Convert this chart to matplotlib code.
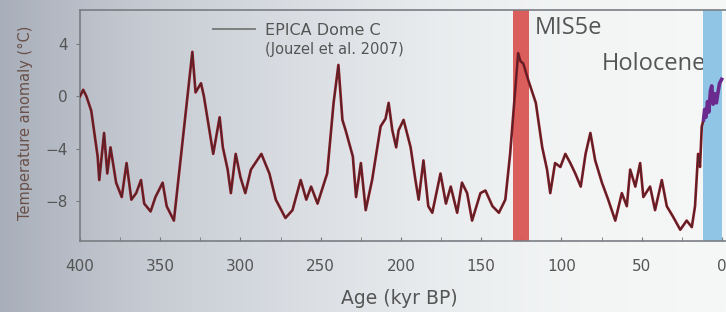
import numpy as np
import matplotlib
matplotlib.use("Agg")
import matplotlib.pyplot as plt
from matplotlib.colors import LinearSegmentedColormap

# ---- data ----
age_kyr = [400, 398, 396, 393, 389, 388, 385, 383, 381, 377.5, 374, 371, 368, 365, 362,
           360, 356, 353, 348.5, 346, 341.5, 330, 328, 324.6, 322.8, 317, 313, 311, 308,
           306, 303, 300, 297, 293.5, 287, 282, 278, 272, 267.6, 262.5, 259, 256, 252,
           246, 242, 239, 236.5, 234.5, 230, 228, 225, 222, 218, 212.7, 209.6, 207.7,
           205.4, 203, 201.5, 198.4, 194, 191, 189, 186, 183, 180.5, 175.4, 172, 169,
           165, 162, 158.8, 155.7, 150.5, 147.4, 143, 139, 135, 132, 127, 125.6, 123.8,
           120.6, 116, 112, 109, 107, 104, 100.7, 97.6, 94.5, 91.4, 88, 85, 82, 79, 74.8,
           70.9, 66.5, 62.4, 59.3, 57.2, 54, 51, 49, 44.8, 41.7, 37.5, 34.4, 30.5, 26, 22,
           18.8, 16.8, 14.9, 13.7, 12.6, 11.5]
temp_anom = [0.0, 0.5, 0.0, -1.1, -4.6, -6.4, -2.8, -5.9, -3.9, -6.6, -7.7, -5.1, -7.9,
             -7.4, -6.4, -8.2, -8.8, -7.7, -6.6, -8.4, -9.5, 3.4, 0.3, 1.0, 0.0, -4.4,
             -1.6, -3.9, -5.6, -7.4, -4.4, -6.2, -7.4, -5.6, -4.4, -5.9, -7.9, -9.3,
             -8.7, -6.4, -7.9, -6.9, -8.2, -5.9, -0.5, 2.4, -1.8, -2.6, -4.6, -7.7,
             -5.1, -8.7, -6.4, -2.3, -1.7, -0.5, -2.6, -3.9, -2.6, -1.8, -3.9, -6.4,
             -7.9, -4.9, -8.4, -8.9, -5.9, -8.2, -6.9, -8.9, -6.6, -7.4, -9.5, -7.4,
             -7.2, -8.4, -8.9, -7.9, -4.4, 3.3, 2.7, 2.5, 1.2, -0.5, -3.9, -5.6, -7.4,
             -5.1, -5.4, -4.4, -5.1, -5.9, -6.9, -4.4, -2.8, -4.9, -6.6, -7.9, -9.5,
             -7.4, -8.4, -5.6, -6.9, -5.1, -7.7, -6.9, -8.7, -6.4, -8.4, -9.2, -10.2,
             -9.5, -10.0, -8.4, -4.4, -5.4, -2.3, -1.8]
holo_age = [11.5, 10.8, 10.0, 9.0, 8.2, 7.2, 6.4, 5.5, 4.5, 3.5, 2.5, 1.5, 0.2]
holo_temp = [-1.8, -1.0, -1.6, -0.4, -1.2, 0.4, 0.8, -0.6, 0.2, -0.5, 0.3, 1.0, 1.3]

mis5e_span = (130, 120)
holocene_span = (11.7, 0)
xticks = [400, 350, 300, 250, 200, 150, 100, 50, 0]
yticks = [4, 0, -4, -8]

W, H = 726, 312
fig = plt.figure(figsize=(W / 100, H / 100), dpi=100)

# photographed-slide background gradient
bg = fig.add_axes([0, 0, 1, 1], zorder=-10)
cmap = LinearSegmentedColormap.from_list(
    "bg", ["#a9afba", "#c6cbd3", "#d9dde2", "#e9ecee", "#f3f5f5", "#f6f7f7"])
grad = np.linspace(0, 1, 256)[None, :]
bg.imshow(grad, aspect="auto", cmap=cmap, extent=[0, 1, 0, 1])
bg.set_axis_off()

ax = fig.add_axes([80 / W, 1 - 241 / H, 1 - 80 / W, (241 - 10) / H])
ax.set_facecolor("none")

ax.axvspan(*mis5e_span, color="#d9534f", alpha=0.92, lw=0, zorder=2)
ax.axvspan(*holocene_span, color="#8cc3e6", alpha=0.95, lw=0, zorder=2)

ax.plot(age_kyr, temp_anom, color="#8a1822", lw=1.9, zorder=3, solid_joinstyle="round")
ax.plot(age_kyr, temp_anom, color="#3a2a2e", lw=0.7, zorder=4, alpha=0.8)
ax.plot(holo_age, holo_temp, color="#6a2a8e", lw=2.6, zorder=4)

ax.set_xlim(400, -2.5)
ax.set_ylim(-11.06, 6.6)
ax.set_xticks(xticks)
ax.set_xticklabels([str(t) for t in xticks])
ax.set_xticks(np.arange(375, 0, -50), minor=True)
ax.set_yticks(yticks)
ax.tick_params(axis="x", which="both", direction="in", length=3, color="#777777",
               labelsize=11, labelcolor="#555555", pad=13)
ax.tick_params(axis="y", direction="out", length=3, color="#777777",
               labelsize=11, labelcolor="#555555", pad=6)
for lab in ax.get_xticklabels() + ax.get_yticklabels():
    lab.set_family("DejaVu Sans")

for s in ["left", "bottom", "top"]:
    ax.spines[s].set_color("#7a7d83")
    ax.spines[s].set_linewidth(1.2)
ax.spines["right"].set_visible(False)

fig.text(399 / W, 1 - 299 / H, "Age (kyr BP)", fontsize=13.5, color="#555555",
         family="DejaVu Sans", ha="center", va="center")
fig.text(25 / W, 1 - 123 / H, "Temperature anomaly (°C)", fontsize=10.5,
         color="#6a5048", family="DejaVu Sans", ha="center", va="center", rotation=90)

# legend entry
ax.plot([317, 291], [5.15, 5.15], color="#777777", lw=1.3, zorder=5)
ax.text(285, 5.0, "EPICA Dome C", fontsize=11.5, color="#555555", va="center",
        family="DejaVu Sans", zorder=5)
ax.text(285, 3.6, "(Jouzel et al. 2007)", fontsize=10.5, color="#555555", va="center",
        family="DejaVu Sans", zorder=5)

ax.text(116.5, 5.2, "MIS5e", fontsize=17, color="#555555", va="center", ha="left",
        family="Open Sans", zorder=1)
ax.text(74.8, 2.5, "Holocene", fontsize=17, color="#555555", va="center", ha="left",
        family="Open Sans", zorder=1)

fig.savefig("out.png", dpi=100)
